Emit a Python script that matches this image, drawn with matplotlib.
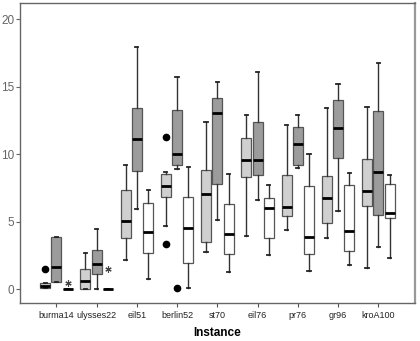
import numpy as np
import matplotlib
matplotlib.use("Agg")
import matplotlib.pyplot as plt

plt.rcParams["font.family"] = ["Liberation Sans", "DejaVu Sans"]

instances = ["burma14", "ulysses22", "eil51", "berlin52", "st70",
             "eil76", "pr76", "gr96", "kroA100"]

# per series: (whislo, q1, med, q3, whishi) per instance
light_stats = [
    (0.10, 0.10, 0.27, 0.49, 0.49),
    (0.0, 0.0, 0.59, 1.53, 2.72),
    (2.2, 3.83, 5.04, 7.36, 9.24),
    (4.67, 6.81, 7.63, 8.54, 8.69),
    (2.77, 3.48, 7.06, 8.84, 12.42),
    (3.97, 8.3, 9.58, 11.23, 12.91),
    (4.4, 5.41, 6.1, 8.44, 12.17),
    (3.83, 4.94, 6.79, 8.39, 13.46),
    (1.58, 6.17, 7.26, 9.63, 13.51),
]
dark_stats = [
    (0.52, 0.52, 1.63, 3.88, 3.88),
    (0.0, 1.16, 1.87, 2.89, 4.49),
    (5.95, 8.79, 11.14, 13.46, 17.95),
    (8.94, 9.19, 10.0, 13.31, 15.73),
    (5.11, 7.78, 13.09, 14.15, 15.33),
    (6.59, 8.44, 9.58, 12.37, 16.07),
    (9.01, 9.21, 10.74, 12.0, 12.89),
    (5.78, 9.75, 11.93, 14.05, 15.19),
    (3.11, 5.5, 8.67, 13.21, 16.79),
]
white_stats = [
    (0.0, 0.0, 0.0, 0.0, 0.0),
    (0.0, 0.0, 0.0, 0.0, 0.0),
    (0.79, 2.67, 4.22, 6.42, 7.36),
    (0.1, 1.95, 4.54, 6.87, 9.09),
    (1.28, 2.59, 4.1, 6.32, 8.52),
    (2.52, 3.78, 6.03, 6.77, 7.73),
    (1.33, 2.64, 3.9, 7.65, 10.02),
    (1.78, 2.86, 4.35, 7.7, 8.64),
    (2.3, 5.26, 5.65, 7.8, 8.44),
]

# outliers (circles) and extremes (stars)
light_outliers = [[1.53], [], [], [11.28, 3.38], [], [], [], [], []]
dark_outliers = [[], [], [], [0.1], [], [], [], [], []]
white_outliers = [[] for _ in instances]
white_extremes = [[0.5], [1.53], [], [], [], [], [], [], []]

series = [
    (light_stats, light_outliers, "#d0d0d0", -0.28),
    (dark_stats, dark_outliers, "#9c9c9c", 0.0),
    (white_stats, white_outliers, "#ffffff", 0.28),
]

fig = plt.figure(figsize=(4.2, 3.41), dpi=100)
ax = fig.add_axes([0.048, 0.112, 0.939, 0.879])

x = np.arange(len(instances))
for stats, outliers, color, off in series:
    bxp_stats = []
    for (lo, q1, med, q3, hi), fl in zip(stats, outliers):
        bxp_stats.append(dict(whislo=lo, q1=q1, med=med, q3=q3, whishi=hi,
                              fliers=fl))
    ax.bxp(bxp_stats, positions=x + off, widths=0.25, patch_artist=True,
           showfliers=True, manage_ticks=False,
           boxprops=dict(facecolor=color, edgecolor="#555555", linewidth=0.9),
           medianprops=dict(color="black", linewidth=2.0),
           whiskerprops=dict(color="#333333", linewidth=1.0),
           capprops=dict(color="#222222", linewidth=1.3),
           capwidths=0.08,
           flierprops=dict(marker="o", markerfacecolor="black",
                           markeredgecolor="black", markersize=4.5))

for i, ext in enumerate(white_extremes):
    if ext:
        ax.plot([x[i] + 0.28] * len(ext), ext, linestyle="none",
                marker=(6, 2, 0), color="#444444", markersize=4.5,
                markeredgewidth=0.8)

ax.set_xlim(-0.9, 8.9)
ax.set_ylim(-1.0, 21.2)
ax.set_yticks([0, 5, 10, 15, 20])
ax.set_xticks(x)
ax.set_xticklabels(instances, fontsize=6.5)
ax.tick_params(axis="y", labelsize=8.5, colors="#666666", length=3,
               width=0.8, pad=1)
ax.tick_params(axis="x", length=3, width=0.8, colors="#555555", pad=3)
for lab in ax.get_xticklabels():
    lab.set_color("#222222")
ax.set_xlabel("Instance", fontsize=8.5, fontweight="bold", labelpad=5)
for side in ["left", "bottom", "top", "right"]:
    ax.spines[side].set_color("#666666")
    ax.spines[side].set_linewidth(1.0)
ax.spines["right"].set_color("#999999")
ax.spines["right"].set_linewidth(1.6)

fig.savefig("out.png", dpi=100)
